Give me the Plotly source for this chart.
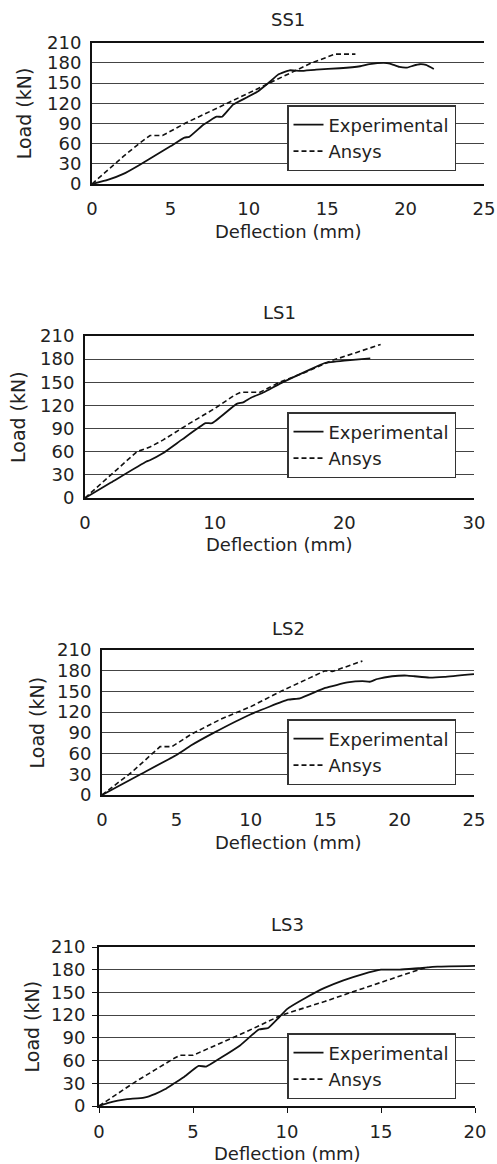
import plotly.graph_objects as go

# ---------------- data ----------------
titles = ["SS1", "LS1", "LS2", "LS3"]
x_ranges = [[0, 25], [0, 30], [0, 25], [0, 20]]
x_dticks = [5, 10, 5, 5]
y_ticks = [0, 30, 60, 90, 120, 150, 180, 210]

ss1_exp_x = [0, 1, 2, 3, 4, 5, 5.9, 6.2, 7.1, 7.95, 8.3, 9.0, 9.9, 10.6, 11.25, 11.9, 12.6, 13.3, 14.3, 15.8, 17.1, 17.7, 18.6, 19.0, 19.6, 20.1, 20.5, 20.9, 21.3, 21.8]
ss1_exp_y = [0, 6, 15, 28, 42, 56, 69, 70, 88, 100, 100, 118, 129, 138, 150, 163, 169, 168, 170, 172, 175, 178, 180, 179, 174, 173, 176, 178, 177, 171]
ss1_ans_x = [0, 1, 2, 3, 3.7, 4.5, 5, 6, 8, 10, 12, 14, 15.5, 16.8]
ss1_ans_y = [0, 21, 41, 60, 72, 72, 78, 91, 113, 135, 158, 180, 193, 193]

ls1_exp_x = [0, 2, 4.7, 5, 6, 7.5, 9.3, 9.8, 11.7, 12.2, 12.8, 13.8, 15, 16.5, 18.2, 18.5, 20, 22]
ls1_exp_y = [0, 20, 47, 49, 58, 76, 97, 97, 122, 124, 130, 137, 148, 160, 173, 175, 178, 181]
ls1_ans_x = [0, 2, 4, 5, 6, 8, 10, 11.5, 12, 13.5, 15, 17, 19, 21, 22.8]
ls1_ans_y = [0, 30, 60, 66, 75, 96, 116, 133, 137, 137, 150, 163, 178, 189, 199]

ls2_exp_x = [0, 2.5, 5, 6, 7.5, 10, 12.5, 13.3, 15, 16.5, 17.5, 18, 18.5, 19.5, 20.5, 21, 22, 23, 25]
ls2_exp_y = [0, 29, 58, 72, 90, 117, 138, 140, 155, 163, 165, 164, 168, 172, 173, 172, 170, 171, 175]
ls2_ans_x = [0, 2, 3.9, 4.7, 6, 8, 10, 12, 14, 15, 15.5, 17.5]
ls2_ans_y = [0, 33, 70, 70, 88, 110, 128, 150, 170, 180, 179, 194]

ls3_exp_x = [0, 0.5, 1, 1.5, 2.4, 3, 3.5, 4, 4.5, 5.3, 5.7, 6.5, 7.5, 8.5, 9, 9.5, 10, 11, 12, 13, 14, 15, 16, 17, 18, 20]
ls3_exp_y = [0, 4, 7, 9, 11, 16, 22, 30, 38, 53, 52, 64, 80, 101, 103, 115, 128, 143, 156, 166, 174, 180, 180, 182, 184, 185]
ls3_ans_x = [0, 2, 4, 4.3, 5, 6, 8, 9.7, 12, 14, 16, 17.5]
ls3_ans_y = [0, 33, 63, 67, 67, 78, 100, 120, 138, 155, 172, 184]

series = [
    (ss1_exp_x, ss1_exp_y, ss1_ans_x, ss1_ans_y),
    (ls1_exp_x, ls1_exp_y, ls1_ans_x, ls1_ans_y),
    (ls2_exp_x, ls2_exp_y, ls2_ans_x, ls2_ans_y),
    (ls3_exp_x, ls3_exp_y, ls3_ans_x, ls3_ans_y),
]

# ---------------- layout geometry (pixels) ----------------
W, H = 497, 1164
# (left, right, top, bottom) of each plot area
boxes = [(92, 484, 42.7, 184), (85, 474, 336, 498), (102, 474, 650, 795), (99, 475, 947, 1106)]
title_y = [19.5, 312, 628, 924]
xtitle_y = [232, 544, 842, 1153]
ytitle_x = [24, 18, 36, 31]
legend_top = [105, 412, 719, 1033]
legend_left = 287

FONT = "DejaVu Sans"
TXT = "#222222"

fig = go.Figure()
for i, (ex, ey, ax, ay) in enumerate(series):
    n = "" if i == 0 else str(i + 1)
    fig.add_trace(go.Scatter(x=ex, y=ey, mode="lines", name="Experimental",
                             line=dict(color="#111111", width=1.8, shape="spline", smoothing=0.4),
                             xaxis="x" + n, yaxis="y" + n, legend="legend" + n))
    fig.add_trace(go.Scatter(x=ax, y=ay, mode="lines", name="Ansys",
                             line=dict(color="#111111", width=1.6, dash="5px,3px"),
                             xaxis="x" + n, yaxis="y" + n, legend="legend" + n))

layout = dict(width=W, height=H, margin=dict(l=0, r=0, t=0, b=0, autoexpand=False),
              paper_bgcolor="white", plot_bgcolor="white",
              font=dict(family=FONT, size=18, color=TXT), showlegend=True)
annotations = []
for i, (l, r, t, b) in enumerate(boxes):
    n = "" if i == 0 else str(i + 1)
    xd = [l / W, r / W]
    yd = [(H - b) / H, (H - t) / H]
    has_ticks = (i == 3)
    ticks = "outside" if has_ticks else ""
    layout["xaxis" + n] = dict(domain=xd, range=x_ranges[i], dtick=x_dticks[i], tick0=0,
                               anchor="y" + n, showgrid=False, zeroline=False,
                               showline=True, mirror=True, linecolor="#111111", linewidth=2,
                               ticks=ticks, ticklen=5, tickcolor="#111111",
                               ticklabelstandoff=3 if has_ticks else 7,
                               tickfont=dict(family=FONT, size=18, color=TXT))
    layout["yaxis" + n] = dict(domain=yd, range=[0, 210], tickvals=y_ticks,
                               anchor="x" + n, showgrid=True, gridcolor="#444444", gridwidth=1,
                               zeroline=False, showline=True, linecolor="#111111", linewidth=2,
                               ticks=ticks, ticklen=5, tickcolor="#111111",
                               ticklabelstandoff=3 if has_ticks else 5,
                               tickfont=dict(family=FONT, size=18, color=TXT))
    layout["legend" + n] = dict(x=legend_left / W, y=(H - legend_top[i]) / H,
                                xanchor="left", yanchor="top", bgcolor="white",
                                bordercolor="#333333", borderwidth=1.5,
                                font=dict(family=FONT, size=18, color=TXT),
                                itemwidth=30, tracegroupgap=0)
    cx = (l + r) / 2 / W
    annotations.append(dict(text=titles[i], x=cx, y=(H - title_y[i]) / H, xref="paper", yref="paper",
                            showarrow=False, font=dict(family=FONT, size=18, color=TXT),
                            xanchor="center", yanchor="middle"))
    annotations.append(dict(text="Deflection (mm)", x=cx, y=(H - xtitle_y[i]) / H, xref="paper", yref="paper",
                            showarrow=False, font=dict(family=FONT, size=18, color=TXT),
                            xanchor="center", yanchor="middle"))
    annotations.append(dict(text="Load (kN)", x=ytitle_x[i] / W, y=(H - (t + b) / 2) / H,
                            xref="paper", yref="paper", textangle=-90,
                            showarrow=False, font=dict(family=FONT, size=19, color=TXT),
                            xanchor="center", yanchor="middle"))
layout["annotations"] = annotations
fig.update_layout(**layout)
fig.write_html("out.html", config={"displayModeBar": False},
               post_script="document.body.style.margin='0';document.body.style.overflow='hidden';")
